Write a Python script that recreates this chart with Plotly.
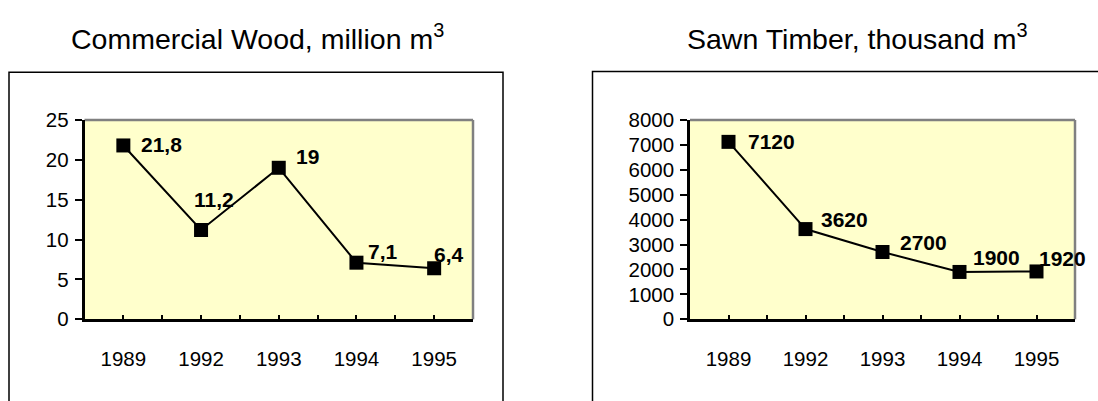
import plotly.graph_objects as go

# ---- data ----
years = ["1989", "1992", "1993", "1994", "1995"]
commercial_wood = [21.8, 11.2, 19, 7.1, 6.4]      # million m3
sawn_timber = [7120, 3620, 2700, 1900, 1920]      # thousand m3
wood_ticks = [0, 5, 10, 15, 20, 25]
timber_ticks = [0, 1000, 2000, 3000, 4000, 5000, 6000, 7000, 8000]
title_wood = "Commercial Wood, million m<sup>3</sup>"
title_timber = "Sawn Timber, thousand m<sup>3</sup>"

# ---- styling (label offsets in px: right, up) ----
wood_label_dx = [16, -9, 15, 10, -2]
wood_label_dy = [1, 30, 11, 11, 14]
timber_label_dx = [17, 13, 15, 11, 0]
timber_label_dy = [0, 10, 10, 14, 13]

W, H = 1098, 401
FONT = "Arial, Liberation Sans, sans-serif"


def px_x(p):
    return p / W


def px_y(p):
    return 1 - p / H


def fmt(v):
    return f"{v:g}".replace(".", ",")


idx = list(range(len(years)))
minor_vals = [i - 0.5 for i in idx] + [idx[-1] + 0.5]

fig = go.Figure()

panels = [
    dict(vals=commercial_wood, ticks=wood_ticks, dx=wood_label_dx, dy=wood_label_dy,
         xa="x", ya="y", xdom=[px_x(84.5), px_x(473)], title=title_wood, tx=257.5,
         box=[9, 64, 503, 420]),
    dict(vals=sawn_timber, ticks=timber_ticks, dx=timber_label_dx, dy=timber_label_dy,
         xa="x2", ya="y2", xdom=[px_x(690), px_x(1075)], title=title_timber, tx=857,
         box=[592.5, 63, 1130, 420]),
]

ydom = [px_y(326), px_y(114.5)]
annotations = []
shapes = []

for k, p in enumerate(panels):
    fig.add_trace(go.Scatter(
        x=idx, y=p["vals"], mode="lines+markers",
        line=dict(color="black", width=2),
        marker=dict(symbol="square", size=14, color="black"),
        xaxis=p["xa"], yaxis=p["ya"], showlegend=False, hoverinfo="skip",
        cliponaxis=False,
    ))
    suffix = "" if k == 0 else "2"
    fig.update_layout(**{
        f"xaxis{suffix}": dict(
            domain=p["xdom"], anchor=p["ya"], range=[-0.5, len(years) - 0.5],
            tickmode="array", tickvals=idx, ticktext=years,
            ticks="inside", ticklen=5, tickwidth=2, tickcolor="black",
            minor=dict(tickmode="array", tickvals=minor_vals, ticks="inside",
                       ticklen=5, tickwidth=2, tickcolor="black"),
            showline=True, linecolor="black", linewidth=2.5,
            showgrid=False, zeroline=False, fixedrange=True,
            tickfont=dict(family=FONT, size=20.5, color="black"),
            ticklabelstandoff=19,
        ),
        f"yaxis{suffix}": dict(
            domain=ydom, anchor=p["xa"], range=[p["ticks"][0], p["ticks"][-1]],
            tickmode="array", tickvals=p["ticks"],
            ticks="outside", ticklen=7, tickwidth=2, tickcolor="black",
            showline=True, linecolor="black", linewidth=2.5,
            showgrid=False, zeroline=False, fixedrange=True,
            tickfont=dict(family=FONT, size=20.5, color="black"),
            ticklabelstandoff=2,
        ),
    })
    # data labels
    for i, v in enumerate(p["vals"]):
        annotations.append(dict(
            x=idx[i], y=v, xref=p["xa"], yref=p["ya"], text=fmt(v),
            showarrow=False, xanchor="left", yanchor="middle",
            xshift=p["dx"][i], yshift=p["dy"][i],
            font=dict(family=FONT, size=21, color="black", weight="bold"),
        ))
    # title
    annotations.append(dict(
        x=px_x(p["tx"]), y=px_y(27), xref="paper", yref="paper", text=p["title"],
        showarrow=False, xanchor="center", yanchor="middle",
        font=dict(family=FONT, size=28.5, color="black"),
    ))
    dref_x = f"{p['xa']} domain"
    dref_y = f"{p['ya']} domain"
    # yellow plot area
    shapes.append(dict(type="rect", xref=dref_x, yref=dref_y, x0=0, x1=1, y0=0, y1=1,
                       fillcolor="#FFFFCC", line=dict(width=0), layer="below"))
    # gray top/right plot border
    shapes.append(dict(type="line", xref=dref_x, yref=dref_y, x0=0, x1=1, y0=1, y1=1,
                       line=dict(color="#808080", width=2.5), layer="below"))
    shapes.append(dict(type="line", xref=dref_x, yref=dref_y, x0=1, x1=1, y0=0, y1=1,
                       line=dict(color="#808080", width=2.5), layer="below"))
    # outer chart box
    b = p["box"]
    shapes.append(dict(type="rect", xref="paper", yref="paper",
                       x0=px_x(b[0]), x1=px_x(b[2]), y0=px_y(b[3]), y1=px_y(b[1]),
                       line=dict(color="black", width=1.5), fillcolor="rgba(0,0,0,0)",
                       layer="below"))

fig.update_layout(
    width=W, height=H, margin=dict(l=0, r=0, t=0, b=0),
    paper_bgcolor="white", plot_bgcolor="rgba(0,0,0,0)",
    annotations=annotations, shapes=shapes,
    font=dict(family=FONT, color="black"),
)

fig.write_html(
    "out.html",
    config={"displayModeBar": False},
    post_script="document.body.style.margin='0';document.body.style.padding='0';"
                "document.body.style.overflow='hidden';",
)
